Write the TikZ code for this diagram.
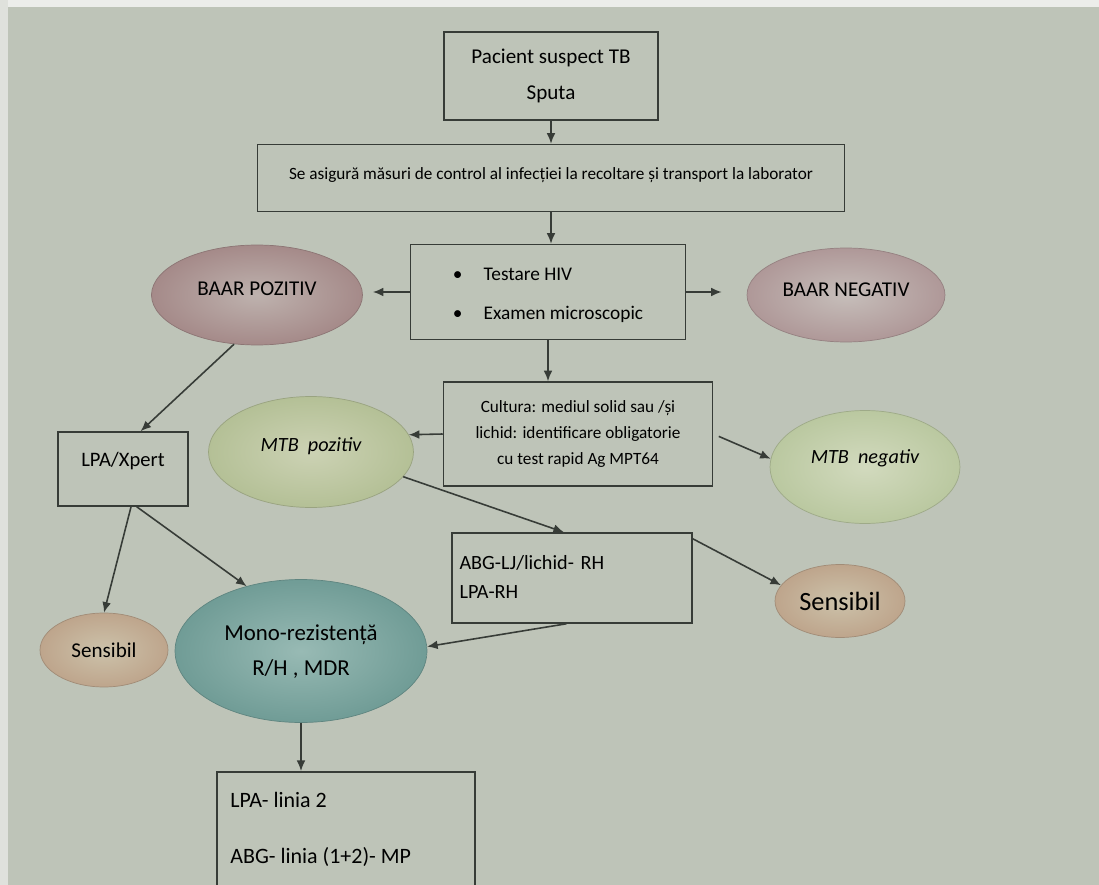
\documentclass[tikz,border=0pt]{standalone}
\usepackage{fontspec}
\setmainfont{Carlito}
\usetikzlibrary{shapes.geometric,arrows.meta}
\definecolor{bg}{RGB}{190,196,184}
\definecolor{ln}{RGB}{55,60,55}
\definecolor{baarI}{RGB}{190,178,174}
\definecolor{baarO}{RGB}{165,138,137}
\definecolor{baarnI}{RGB}{198,190,186}
\definecolor{baarnO}{RGB}{175,152,152}
\definecolor{mtbI}{RGB}{204,210,180}
\definecolor{mtbO}{RGB}{180,192,150}
\definecolor{mtbnI}{RGB}{210,218,190}
\definecolor{mtbnO}{RGB}{186,200,160}
\definecolor{sensI}{RGB}{204,194,170}
\definecolor{sensO}{RGB}{190,165,140}
\definecolor{monoI}{RGB}{152,186,180}
\definecolor{monoO}{RGB}{112,156,150}
\newcommand{\liftlbl}[2]{\raisebox{#1}{\begin{tabular}{@{}c@{}}#2\end{tabular}}}
\tikzset{
  box/.style={draw=ln, line width=0.9pt, rectangle, inner sep=2pt, align=center, font=\fontsize{10}{12}\selectfont},
  oval/.style={ellipse, draw=#1O!85!black, line width=0.4pt, shading=radial, inner color=#1I, outer color=#1O, inner sep=0pt, font=\fontsize{12}{14}\selectfont},
  arr/.style={draw=ln, line width=0.9pt, -{Latex[length=6pt,width=5pt]}},
  lbl/.style={anchor=west, inner sep=0pt, font=\fontsize{12.5}{14}\selectfont},
}
\begin{document}
\begin{tikzpicture}[x=0.02cm,y=-0.02cm]
\clip (0,0) rectangle (1099,885);
\useasboundingbox (0,0) rectangle (1099,885);
\fill[bg] (0,0) rectangle (1099,885);
\fill[white!70!bg] (0,0) rectangle (1099,7);
\fill[white!50!bg] (0,0) rectangle (8,885);
% boxes
\node[box, minimum width=4.28cm, minimum height=1.76cm, font=\fontsize{12}{20}\selectfont] (b1) at (551,76) {Pacient suspect TB\\Sputa};
\node[box, minimum width=11.74cm, minimum height=1.34cm, font=\fontsize{9.8}{12}\selectfont] (b2) at (551,178) {\raisebox{0.5em}{Se asigură măsuri de control al infecției la recoltare și transport la laborator}};
\node[box, minimum width=5.5cm, minimum height=1.9cm, font=\fontsize{11}{22.5}\selectfont] (b3) at (548,292) {\begin{tabular}{@{}l@{}}\textbullet\hspace{1.1em}Testare HIV\\\textbullet\hspace{1.1em}Examen microscopic\end{tabular}};
\node[box, minimum width=5.38cm, minimum height=2.08cm, font=\fontsize{9.8}{15}\selectfont] (b4) at (578,434) {Cultura: mediul solid sau /și\\lichid: identificare obligatorie\\cu test rapid Ag MPT64};
\node[box, minimum width=2.6cm, minimum height=1.48cm, font=\fontsize{11.7}{14}\selectfont] (lpa) at (123,469) {\raisebox{0.9em}{LPA/Xpert}};
\node[box, minimum width=4.8cm, minimum height=1.8cm, align=left, text width=4.5cm, font=\fontsize{11.5}{16.5}\selectfont] (abg) at (572,578) {\raisebox{0.5em}{\begin{tabular}{@{}l@{}}ABG-LJ/lichid- RH\\LPA-RH\end{tabular}}};
\node[box, minimum width=5.16cm, minimum height=3cm, anchor=north] (b5) at (346,771) {};
\node[lbl] (t51) at (230,800) {LPA- linia 2};
\node[lbl] (t52) at (230,857) {ABG- linia (1+2)- MP};
% ovals
\node[oval=baar, minimum width=4.22cm, minimum height=2.0cm] (bp) at (257,295) {\liftlbl{8.5pt}{BAAR POZITIV}};
\node[oval=baarn, minimum width=3.96cm, minimum height=1.88cm] (bn) at (846,295) {\liftlbl{7.4pt}{BAAR NEGATIV}};
\node[oval=mtb, minimum width=4.1cm, minimum height=2.22cm, font=\itshape\fontsize{11.5}{14}\selectfont] (mp) at (311,452) {\liftlbl{10.5pt}{MTB\ \ pozitiv}};
\node[oval=mtbn, minimum width=3.8cm, minimum height=2.26cm, font=\itshape\fontsize{11.5}{14}\selectfont] (mn) at (865,467) {\liftlbl{14pt}{MTB\ \ negativ}};
\node[oval=sens, minimum width=2.56cm, minimum height=1.48cm, font=\fontsize{12}{14}\selectfont] (sl) at (104,650) {Sensibil};
\node[oval=mono, minimum width=5.04cm, minimum height=2.86cm, font=\fontsize{13}{20}\selectfont] (mo) at (301,651) {\liftlbl{6pt}{Mono-rezistență\\R/H , MDR}};
\node[oval=sens, minimum width=2.6cm, minimum height=1.46cm, font=\fontsize{15}{18}\selectfont] (sr) at (840,601) {Sensibil};
% connectors
\draw[arr] (b1.south) -- (b1.south |- b2.north);
\draw[arr] (b2.south) -- (b2.south |- b3.north);
\draw[arr, shorten >=0.2cm] (b3.west) -- (bp.east |- b3.west);
\draw[arr, shorten >=0.5cm] (b3.east) -- (bn.west |- b3.east);
\draw[arr] (b3.south) -- (b3.south |- b4.north);
\draw[arr] (b4.west) -- (mp.10);
\draw[arr, shorten <=0.12cm] (b4.east) -- (mn.175);
\draw[arr] (bp.245) -- (lpa.65);
\draw[arr] (lpa.-78) -- (sl.north);
\draw[arr] (lpa.-70) -- (mo.130);
\draw[arr] (mp.-15) -- (abg.100);
\draw[arr] (abg.18) -- (sr.165);
\draw[arr] (abg.-97) -- (mo.2);
\draw[arr] (mo.south) -- (mo.south |- b5.north);
\end{tikzpicture}
\end{document}
